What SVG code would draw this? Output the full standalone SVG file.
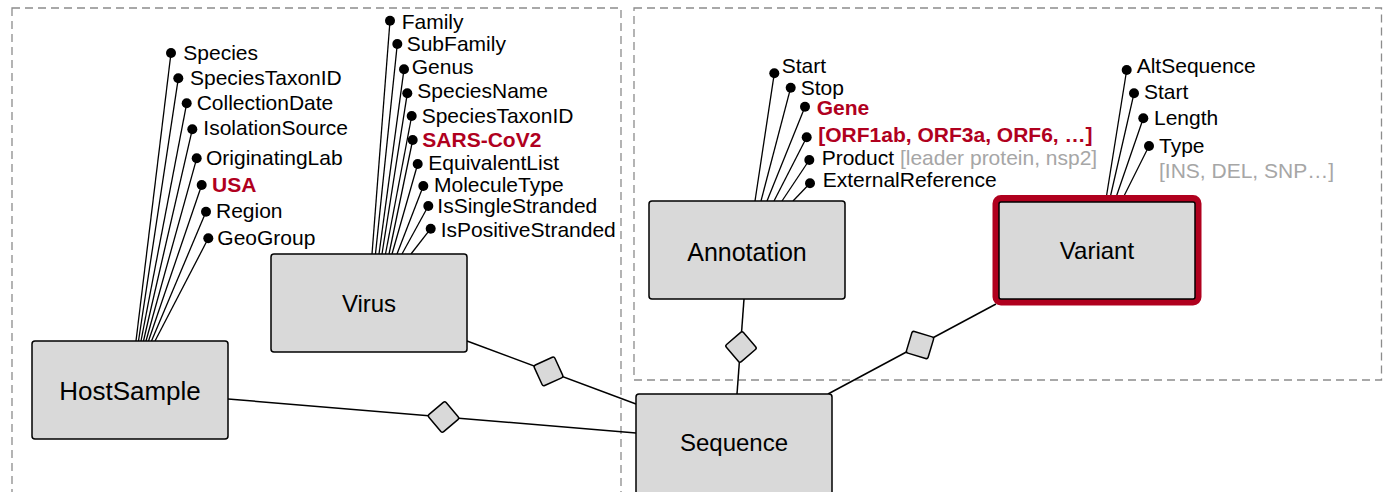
<svg xmlns="http://www.w3.org/2000/svg" width="1383" height="492" viewBox="0 0 1383 492">
<style>
.frame{fill:none;stroke:#8c8c8c;stroke-width:1.3;stroke-dasharray:8 5}
.box{fill:#d9d9d9;stroke:#000;stroke-width:1.5}
.lbl{font-family:"Liberation Sans",Arial,sans-serif;font-size:24px;fill:#000;text-anchor:middle}
.att{font-family:"Liberation Sans",Arial,sans-serif;font-size:21px;fill:#000}
.key{font-weight:bold;fill:#b0001e}
.gray{fill:#a6a6a6}
.stem{stroke:#000;stroke-width:1.3;fill:none}
.dot{fill:#000}
.rel{stroke:#000;stroke-width:1.5;fill:none}
.dia{fill:#d9d9d9;stroke:#000;stroke-width:1.5;stroke-linejoin:round}
</style>
<defs>
<rect id="dm" x="-11.3" y="-11.3" width="22.6" height="22.6" rx="2"/>
</defs>
<g id="frames">
<rect class="frame" x="12" y="8" width="609" height="500"/>
<rect class="frame" x="634" y="8" width="747.5" height="372"/>
</g>
<g id="connectors">
<line class="rel" x1="228" y1="399" x2="636" y2="433"/>
<line class="rel" x1="467" y1="341" x2="636" y2="404"/>
<line class="rel" x1="744" y1="299" x2="737" y2="394"/>
<line class="rel" x1="828" y1="394" x2="996" y2="304"/>
<use href="#dm" class="dia" transform="translate(443.5,417) rotate(49.8)"/>
<use href="#dm" class="dia" transform="translate(548.5,371.4) rotate(65.5)"/>
<use href="#dm" class="dia" transform="translate(741,347) rotate(139.2)"/>
<use href="#dm" class="dia" transform="translate(920,345) rotate(16.8)"/>
</g>
<g id="HostSample">
<g class="stem">
<line x1="171" y1="53" x2="136" y2="341"/>
<line x1="178.3" y1="78.3" x2="138.5" y2="341"/>
<line x1="186.7" y1="103.3" x2="141" y2="341"/>
<line x1="192.3" y1="129.3" x2="143.5" y2="341"/>
<line x1="196.7" y1="158.3" x2="146" y2="341"/>
<line x1="201.7" y1="185" x2="148.5" y2="341"/>
<line x1="206" y1="211.7" x2="151.5" y2="341"/>
<line x1="208.3" y1="238.3" x2="155" y2="341"/>
</g>
<g class="dot">
<circle cx="171" cy="53" r="5"/>
<circle cx="178.3" cy="78.3" r="5"/>
<circle cx="186.7" cy="103.3" r="5"/>
<circle cx="192.3" cy="129.3" r="5"/>
<circle cx="196.7" cy="158.3" r="5"/>
<circle cx="201.7" cy="185" r="5"/>
<circle cx="206" cy="211.7" r="5"/>
<circle cx="208.3" cy="238.3" r="5"/>
</g>
<text class="att" x="183.3" y="60">Species</text>
<text class="att" x="190" y="85">SpeciesTaxonID</text>
<text class="att" x="196.7" y="110">CollectionDate</text>
<text class="att" x="203.3" y="135">IsolationSource</text>
<text class="att" x="206" y="165">OriginatingLab</text>
<text class="att key" x="212" y="192">USA</text>
<text class="att" x="216" y="218">Region</text>
<text class="att" x="217.3" y="245">GeoGroup</text>
<rect class="box" x="32" y="341" width="196" height="98" rx="3"/>
<text class="lbl" x="130" y="399.5" style="font-size:26px">HostSample</text>
</g>
<g id="Virus">
<g class="stem">
<line x1="390" y1="20.7" x2="372" y2="254"/>
<line x1="397.3" y1="44" x2="375.5" y2="254"/>
<line x1="404" y1="69.3" x2="379" y2="254"/>
<line x1="407.3" y1="93.3" x2="382" y2="254"/>
<line x1="411.7" y1="116" x2="385.5" y2="254"/>
<line x1="412.7" y1="140" x2="389" y2="254"/>
<line x1="417.7" y1="164" x2="392" y2="254"/>
<line x1="423.3" y1="186" x2="397" y2="254"/>
<line x1="428.3" y1="206" x2="402" y2="254"/>
<line x1="430.7" y1="228.7" x2="411" y2="254"/>
</g>
<g class="dot">
<circle cx="390" cy="20.7" r="5"/>
<circle cx="397.3" cy="44" r="5"/>
<circle cx="404" cy="69.3" r="5"/>
<circle cx="407.3" cy="93.3" r="5"/>
<circle cx="411.7" cy="116" r="5"/>
<circle cx="412.7" cy="140" r="5"/>
<circle cx="417.7" cy="164" r="5"/>
<circle cx="423.3" cy="186" r="5"/>
<circle cx="428.3" cy="206" r="5"/>
<circle cx="430.7" cy="228.7" r="5"/>
</g>
<text class="att" x="401.7" y="28.5">Family</text>
<text class="att" x="406.7" y="51">SubFamily</text>
<text class="att" x="411.7" y="74">Genus</text>
<text class="att" x="417.3" y="98">SpeciesName</text>
<text class="att" x="421.7" y="123">SpeciesTaxonID</text>
<text class="att key" x="422.3" y="147">SARS-CoV2</text>
<text class="att" x="428.3" y="170">EquivalentList</text>
<text class="att" x="434" y="192">MoleculeType</text>
<text class="att" x="437.3" y="213">IsSingleStranded</text>
<text class="att" x="440.7" y="237">IsPositiveStranded</text>
<rect class="box" x="271" y="254" width="196" height="98" rx="3"/>
<text class="lbl" x="369" y="312">Virus</text>
</g>
<g id="Annotation">
<g class="stem">
<line x1="774.3" y1="73.3" x2="755" y2="201"/>
<line x1="790.7" y1="87.7" x2="761" y2="201"/>
<line x1="805" y1="106.7" x2="767" y2="201"/>
<line x1="806.7" y1="137.3" x2="774" y2="201"/>
<line x1="809.3" y1="160" x2="782" y2="201"/>
<line x1="810" y1="183.3" x2="793" y2="201"/>
</g>
<g class="dot">
<circle cx="774.3" cy="73.3" r="5"/>
<circle cx="790.7" cy="87.7" r="5"/>
<circle cx="805" cy="106.7" r="5"/>
<circle cx="806.7" cy="137.3" r="5"/>
<circle cx="809.3" cy="160" r="5"/>
<circle cx="810" cy="183.3" r="5"/>
</g>
<text class="att" x="781.7" y="73">Start</text>
<text class="att" x="800.7" y="95">Stop</text>
<text class="att key" x="816.7" y="115">Gene</text>
<text class="att key" x="818.3" y="141.5">[ORF1ab, ORF3a, ORF6, …]</text>
<text class="att" x="821.7" y="165">Product <tspan class="gray">[leader protein, nsp2]</tspan></text>
<text class="att" x="822.7" y="187">ExternalReference</text>
<rect class="box" x="649" y="201" width="196" height="98" rx="3"/>
<text class="lbl" x="747" y="261" style="font-size:25px">Annotation</text>
</g>
<g id="Variant">
<g class="stem">
<line x1="1126.7" y1="70" x2="1106.5" y2="196"/>
<line x1="1134" y1="93.3" x2="1110.5" y2="196"/>
<line x1="1143.3" y1="118.3" x2="1116.5" y2="196"/>
<line x1="1149" y1="146" x2="1124" y2="196"/>
</g>
<g class="dot">
<circle cx="1126.7" cy="70" r="5"/>
<circle cx="1134" cy="93.3" r="5"/>
<circle cx="1143.3" cy="118.3" r="5"/>
<circle cx="1149" cy="146" r="5"/>
</g>
<text class="att" x="1136.7" y="73">AltSequence</text>
<text class="att" x="1144" y="99">Start</text>
<text class="att" x="1154" y="125">Length</text>
<text class="att" x="1159" y="153">Type</text>
<text class="att gray" x="1159" y="178">[INS, DEL, SNP…]</text>
<rect x="996" y="198.5" width="202" height="103.5" rx="5" fill="none" stroke="#b0001e" stroke-width="7"/>
<rect class="box" x="999" y="202" width="196" height="97" rx="2"/>
<text class="lbl" x="1097" y="259">Variant</text>
</g>
<g id="Sequence">
<rect class="box" x="636" y="394" width="196" height="104" rx="3"/>
<text class="lbl" x="734" y="451">Sequence</text>
</g>
</svg>
